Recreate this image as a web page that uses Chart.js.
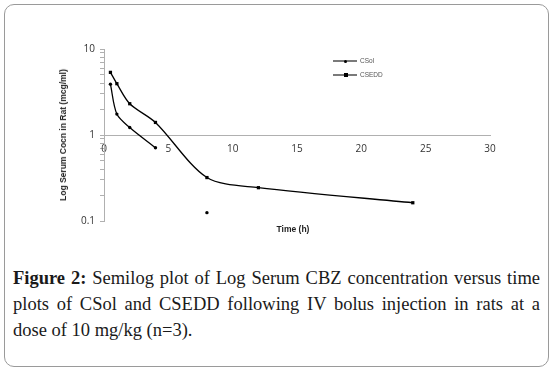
<!DOCTYPE html>
<html>
<head>
<meta charset="utf-8">
<script src="https://cdn.jsdelivr.net/npm/chart.js@4/dist/chart.umd.min.js"></script>
<style>
  html, body { margin:0; padding:0; background:#fff; }
  #wrap { position:relative; width:553px; height:371px; overflow:hidden; }
  #frame { position:absolute; left:4px; top:4px; width:543px; height:361px; border:1px solid #9a9a9a; border-radius:10px; }
  #cv { position:absolute; left:0; top:0; }
  .ytitle { position:absolute; left:63px; top:135px; transform:translate(-50%,-50%) rotate(-90deg); white-space:nowrap;
            font:bold 8.5px "Liberation Sans", Arial, sans-serif; color:#222; }
  .xtitle { position:absolute; left:293px; top:229px; transform:translate(-50%,-50%); white-space:nowrap;
            font:bold 8.5px "Liberation Sans", Arial, sans-serif; color:#222; }
  .leg { position:absolute; font:6.5px "Liberation Sans", Arial, sans-serif; color:#555; white-space:nowrap; }
  .legline { position:absolute; height:2px; width:24px; background:#7a7a7a; }
  .legmk { position:absolute; background:#000; }
  #caption { position:absolute; left:13px; top:265px; width:527px; font:18.5px "Liberation Serif", "Times New Roman", serif;
             line-height:26px; text-align:justify; color:#1a1a1a; }
</style>
</head>
<body>
<div id="wrap">
  <div id="frame"></div>
  <canvas id="cv" width="553" height="245"></canvas>
  <div class="ytitle">Log Serum Cocn in Rat (mcg/ml)</div>
  <div class="xtitle">Time (h)</div>
  <div class="legline" style="left:333px; top:60px;"></div>
  <div class="legmk" style="left:344px; top:59.5px; width:3px; height:3px; border-radius:50%;"></div>
  <div class="leg" style="left:360px; top:57px;">CSol</div>
  <div class="legline" style="left:333px; top:73.5px;"></div>
  <div class="legmk" style="left:343.5px; top:72.5px; width:4px; height:4px;"></div>
  <div class="leg" style="left:360px; top:70.5px;">CSEDD</div>
  <div id="caption"><b>Figure 2:</b> Semilog plot of Log Serum CBZ concentration versus time plots of CSol and CSEDD following IV bolus injection in rats at a dose of 10 mg/kg (n=3).</div>
</div>
<script>
// Data
const csolTimes  = [0.5, 1, 2, 4, 6, 8];
const csolValues = [3.9, 1.75, 1.22, 0.71, null, 0.125];   // no line drawn between 4 h and 8 h
const cseddTimes  = [0.5, 1, 2, 4, 8, 12, 24];
const cseddValues = [5.35, 3.95, 2.31, 1.40, 0.32, 0.244, 0.163];
const xTickStep = 5;
const yMajorTicks = [0.1, 1, 10];
const yAllTicks = [0.1,0.2,0.3,0.4,0.5,0.6,0.7,0.8,0.9,1,2,3,4,5,6,7,8,9,10];

const toPts = (xs, ys) => xs.map((x, i) => ({x: x, y: ys[i]}));

new Chart(document.getElementById('cv'), {
  type: 'line',
  data: {
    datasets: [
      { label: 'CSol', data: toPts(csolTimes, csolValues), borderColor: '#000', backgroundColor: '#000',
        borderWidth: 1.3, pointStyle: 'circle', pointRadius: 1.7, pointBorderWidth: 0, tension: 0.3, spanGaps: false },
      { label: 'CSEDD', data: toPts(cseddTimes, cseddValues), borderColor: '#000', backgroundColor: '#000',
        borderWidth: 1.3, pointStyle: 'rect', pointRadius: 2.3, pointBorderWidth: 0, tension: 0.3 }
    ]
  },
  options: {
    responsive: false,
    animation: false,
    layout: { padding: { left: 0, top: 49, right: 63, bottom: 24 } },
    plugins: { legend: { display: false }, tooltip: { enabled: false } },
    scales: {
      x: {
        type: 'linear', min: 0, max: 30,
        position: { y: 1 },
        grid: { display: false, drawTicks: false },
        border: { display: true, color: '#b0b0b0', width: 1 },
        ticks: { stepSize: xTickStep, padding: 8, color: '#333', font: { family: 'Open Sans', size: 10 }, maxRotation: 0 }
      },
      y: {
        type: 'logarithmic', min: 0.1, max: 10,
        afterFit: s => { s.width = 104; },
        afterBuildTicks: s => { s.ticks = yAllTicks.map(v => ({ value: v, major: yMajorTicks.includes(v) })); },
        grid: { drawOnChartArea: false, drawTicks: true, tickLength: 4, color: '#b0b0b0' },
        border: { display: true, color: '#b0b0b0', width: 1 },
        ticks: { padding: 5, color: '#333', font: { family: 'Open Sans', size: 10 }, autoSkip: false,
                 callback: v => yMajorTicks.includes(v) ? String(v) : '' }
      }
    }
  }
});
</script>
</body>
</html>
